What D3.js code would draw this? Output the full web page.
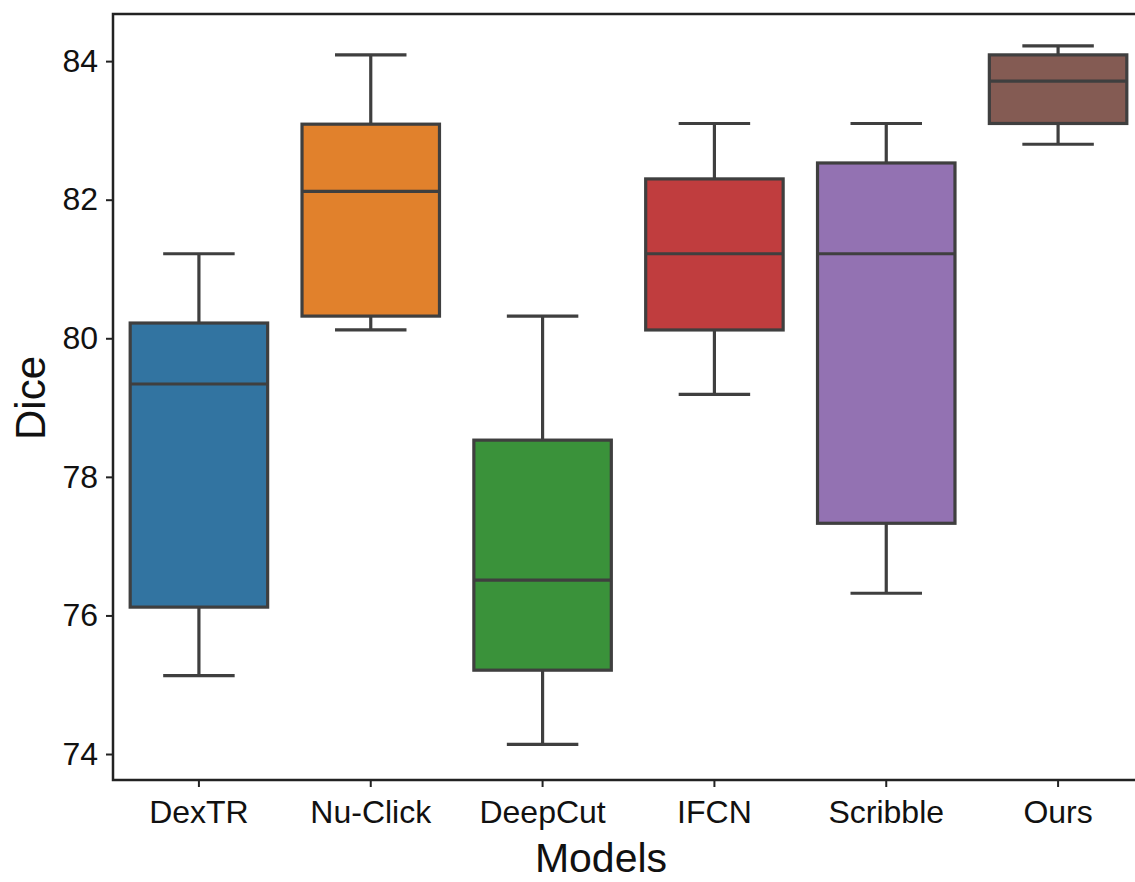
<!DOCTYPE html>
<html>
<head>
<meta charset="utf-8">
<script src="https://cdn.jsdelivr.net/npm/d3@7"></script>
<style>
  body { margin: 0; background: #fff; }
  svg { display: block; font-family: "Liberation Sans", Arial, Helvetica, sans-serif; }
</style>
</head>
<body>
<svg id="chart" width="1135" height="882"></svg>
<script>
// box stats per model
let models = ["DexTR", "Nu-Click", "DeepCut", "IFCN", "Scribble", "Ours"];
let whiskerLow = [75.13, 80.12, 74.14, 79.19, 76.32, 82.8];
let q1 = [76.12, 80.32, 75.21, 80.12, 77.33, 83.1];
let median = [79.34, 82.12, 76.51, 81.22, 81.22, 83.71];
let q3 = [80.22, 83.09, 78.53, 82.3, 82.53, 84.09];
let whiskerHigh = [81.22, 84.09, 80.32, 83.1, 83.1, 84.22];
let colors = ["#3274a1", "#e1812c", "#3a923a", "#c03d3e", "#9372b2", "#845b53"];
let yTicks = [74, 76, 78, 80, 82, 84];

let svg = d3.select("#chart");
let plotLeft = 113, plotTop = 14, plotBottom = 780, plotRight = 1144;

let x = d3.scaleBand().domain(models).range([plotLeft, plotRight]).padding(0);
let y = d3.scaleLinear().domain([73.625, 84.68]).range([plotBottom, plotTop]);

let boxW = x.bandwidth() * 0.8;
let capW = boxW * 0.52;
let lineColor = "#3f3f3f";

let data = models.map((m, i) => ({
  name: m,
  lo: whiskerLow[i],
  q1: q1[i],
  med: median[i],
  q3: q3[i],
  hi: whiskerHigh[i],
  color: colors[i]
}));

let g = svg.append("g").attr("id", "boxes");
let box = g.selectAll("g").data(data).join("g");
let cx = (d) => x(d.name) + x.bandwidth() / 2;

// whiskers
box.append("line")
  .attr("x1", cx).attr("x2", cx)
  .attr("y1", (d) => y(d.hi)).attr("y2", (d) => y(d.q3))
  .attr("stroke", lineColor).attr("stroke-width", 3.2);
box.append("line")
  .attr("x1", cx).attr("x2", cx)
  .attr("y1", (d) => y(d.q1)).attr("y2", (d) => y(d.lo))
  .attr("stroke", lineColor).attr("stroke-width", 3.2);
// caps
box.append("line")
  .attr("x1", (d) => cx(d) - capW / 2).attr("x2", (d) => cx(d) + capW / 2)
  .attr("y1", (d) => y(d.hi)).attr("y2", (d) => y(d.hi))
  .attr("stroke", lineColor).attr("stroke-width", 3.2);
box.append("line")
  .attr("x1", (d) => cx(d) - capW / 2).attr("x2", (d) => cx(d) + capW / 2)
  .attr("y1", (d) => y(d.lo)).attr("y2", (d) => y(d.lo))
  .attr("stroke", lineColor).attr("stroke-width", 3.2);
// box
box.append("rect")
  .attr("x", (d) => cx(d) - boxW / 2)
  .attr("width", boxW)
  .attr("y", (d) => y(d.q3))
  .attr("height", (d) => y(d.q1) - y(d.q3))
  .attr("fill", (d) => d.color)
  .attr("stroke", lineColor).attr("stroke-width", 3.2);
// median
box.append("line")
  .attr("x1", (d) => cx(d) - boxW / 2).attr("x2", (d) => cx(d) + boxW / 2)
  .attr("y1", (d) => y(d.med)).attr("y2", (d) => y(d.med))
  .attr("stroke", lineColor).attr("stroke-width", 3.2);

// axes
let yAxis = svg.append("g")
  .attr("transform", `translate(${plotLeft},0)`)
  .call(d3.axisLeft(y).tickValues(yTicks).tickSize(7).tickPadding(8));
let xAxis = svg.append("g")
  .attr("transform", `translate(0,${plotBottom})`)
  .call(d3.axisBottom(x).tickSize(7).tickPadding(9));

[yAxis, xAxis].forEach((ax) => {
  ax.select(".domain").remove();
  ax.selectAll(".tick line").attr("stroke", "#222").attr("stroke-width", 2);
  ax.selectAll(".tick text").attr("fill", "#111").style("font-size", "32px");
});
xAxis.selectAll(".tick text").attr("dy", "0.85em");

// spines (left, top, bottom)
svg.append("path")
  .attr("d", `M${plotRight},${plotTop}H${plotLeft}V${plotBottom}H${plotRight}`)
  .attr("fill", "none").attr("stroke", "#222").attr("stroke-width", 2.5);

// labels
svg.append("text")
  .attr("transform", `translate(45,398) rotate(-90)`)
  .attr("text-anchor", "middle")
  .style("font-size", "42px").attr("fill", "#111")
  .text("Dice");
svg.append("text")
  .attr("x", 601).attr("y", 872)
  .attr("text-anchor", "middle")
  .style("font-size", "41px").attr("fill", "#111")
  .text("Models");
</script>
</body>
</html>
